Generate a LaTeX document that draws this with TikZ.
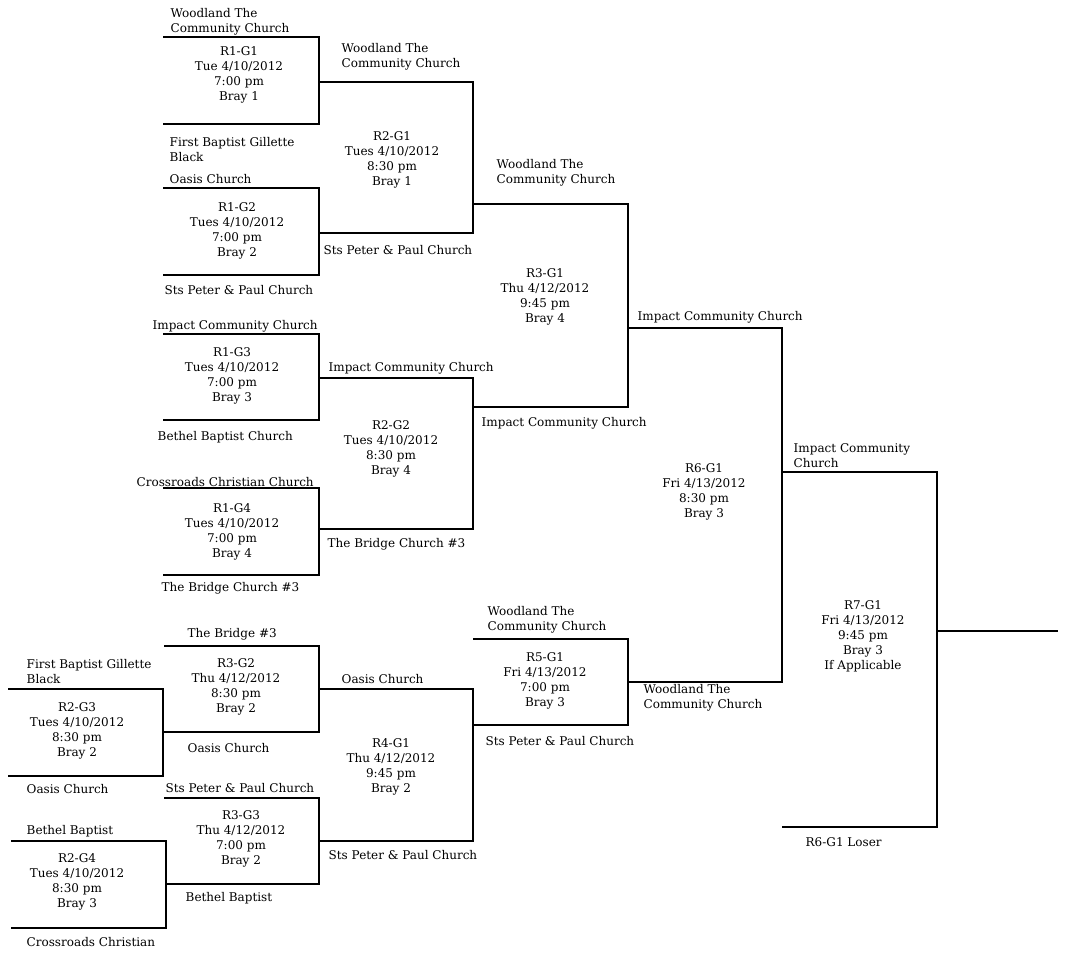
\documentclass[tikz,border=0pt]{standalone}
\usepackage{fontspec}
\setmainfont{DejaVu Serif}

\begin{document}
\begin{tikzpicture}[
    x=1pt, y=-1pt,
    line width=1.4pt,
    game/.style={align=center, inner sep=0pt, font=\fontsize{12}{15}\selectfont},
    team/.style={anchor=west, align=left, inner sep=0pt, font=\fontsize{12}{15}\selectfont}
]
\useasboundingbox (0,0) rectangle (1072,955);

% Entradas (pontas livres das chaves)
\coordinate (e1)  at (163,37);
\coordinate (e2)  at (163,124);
\coordinate (e3)  at (163,188);
\coordinate (e4)  at (163,275);
\coordinate (e5)  at (163,334);
\coordinate (e6)  at (163,420);
\coordinate (e7)  at (163,488);
\coordinate (e8)  at (163,575);
\coordinate (e9)  at (8,689);
\coordinate (e10) at (8,776);
\coordinate (e11) at (11,841);
\coordinate (e12) at (11,928);
\coordinate (e13) at (164,646);
\coordinate (e14) at (164,798);
\coordinate (e15) at (473,639);
\coordinate (e16) at (782,827);

% Vencedores (saida de cada jogo)
\coordinate (w11) at (319,82);
\coordinate (w12) at (319,233);
\coordinate (w13) at (319,378);
\coordinate (w14) at (319,529);
\coordinate (w21) at (473,204);
\coordinate (w22) at (473,407);
\coordinate (w23) at (163,732);
\coordinate (w24) at (166,884);
\coordinate (w31) at (628,328);
\coordinate (w32) at (319,689);
\coordinate (w33) at (319,841);
\coordinate (w41) at (473,725);
\coordinate (w51) at (628,682);
\coordinate (w61) at (782,472);
\coordinate (w71) at (937,631);
\coordinate (fim) at (1058,631);

% --- Chaves ---
\draw (e1) -| (w11) |- (e2);
\draw (e3) -| (w12) |- (e4);
\draw (e5) -| (w13) |- (e6);
\draw (e7) -| (w14) |- (e8);
\draw (w11) -| (w21) |- (w12);
\draw (w13) -| (w22) |- (w14);
\draw (w21) -| (w31) |- (w22);

\draw (e9) -| (w23) |- (e10);
\draw (e11) -| (w24) |- (e12);
\draw (e13) -| (w32) |- (w23);
\draw (e14) -| (w33) |- (w24);
\draw (w32) -| (w41) |- (w33);
\draw (e15) -| (w51) |- (w41);

\draw (w31) -| (w61) |- (w51);
\draw (w61) -| (w71) |- (e16);
\draw (w71) -- (fim);

% --- Jogos ---
\node[game] (g11) at (239,75)    {R1-G1\\Tue 4/10/2012\\7:00 pm\\Bray 1};
\node[game] (g12) at (237,231)   {R1-G2\\Tues 4/10/2012\\7:00 pm\\Bray 2};
\node[game] (g13) at (232,375.5) {R1-G3\\Tues 4/10/2012\\7:00 pm\\Bray 3};
\node[game] (g14) at (232,532)   {R1-G4\\Tues 4/10/2012\\7:00 pm\\Bray 4};
\node[game] (g21) at (392,159.5) {R2-G1\\Tues 4/10/2012\\8:30 pm\\Bray 1};
\node[game] (g22) at (391,449)   {R2-G2\\Tues 4/10/2012\\8:30 pm\\Bray 4};
\node[game] (g23) at (77,730.5)  {R2-G3\\Tues 4/10/2012\\8:30 pm\\Bray 2};
\node[game] (g24) at (77,881.5)  {R2-G4\\Tues 4/10/2012\\8:30 pm\\Bray 3};
\node[game] (g31) at (545,296.5) {R3-G1\\Thu 4/12/2012\\9:45 pm\\Bray 4};
\node[game] (g32) at (236,686.5) {R3-G2\\Thu 4/12/2012\\8:30 pm\\Bray 2};
\node[game] (g33) at (241,839)   {R3-G3\\Thu 4/12/2012\\7:00 pm\\Bray 2};
\node[game] (g41) at (391,766.5) {R4-G1\\Thu 4/12/2012\\9:45 pm\\Bray 2};
\node[game] (g51) at (545,680.5) {R5-G1\\Fri 4/13/2012\\7:00 pm\\Bray 3};
\node[game] (g61) at (704,492)   {R6-G1\\Fri 4/13/2012\\8:30 pm\\Bray 3};
\node[game] (g71) at (863,636.5) {R7-G1\\Fri 4/13/2012\\9:45 pm\\Bray 3\\If Applicable};

% --- Equipes (rodada 1) ---
\node[team] (t1)  at (170,22)  {Woodland The\\Community Church};
\node[team] (t2)  at (169,150) {First Baptist Gillette\\Black};
\node[team] (t3)  at (169,179) {Oasis Church};
\node[team] (t4)  at (164,290) {Sts Peter \& Paul Church};
\node[team] (t5)  at (152,326) {Impact Community Church};
\node[team] (t6)  at (157,437) {Bethel Baptist Church};
\node[team] (t7)  at (136,482) {Crossroads Christian Church};
\node[team] (t8)  at (161,588) {The Bridge Church \#3};

% --- Vencedores ---
\node[team] (v11) at (341,57)    {Woodland The\\Community Church};
\node[team] (v12) at (323,250)   {Sts Peter \& Paul Church};
\node[team] (v13) at (328,368)   {Impact Community Church};
\node[team] (v14) at (327,544)   {The Bridge Church \#3};
\node[team] (v21) at (496,172.5) {Woodland The\\Community Church};
\node[team] (v22) at (481,423)   {Impact Community Church};
\node[team] (v31) at (637,317)   {Impact Community Church};
\node[team] (v61) at (793,456)   {Impact Community\\Church};
\node[team] (v51) at (643,697.5) {Woodland The\\Community Church};
\node[team] (r61) at (805,842)   {R6-G1 Loser};

% --- Chave dos perdedores ---
\node[team] (p1)  at (26,671.5) {First Baptist Gillette\\Black};
\node[team] (p2)  at (26,789)   {Oasis Church};
\node[team] (p3)  at (26,831)   {Bethel Baptist};
\node[team] (p4)  at (26,942)   {Crossroads Christian};
\node[team] (p5)  at (187,634)  {The Bridge \#3};
\node[team] (p6)  at (187,748)  {Oasis Church};
\node[team] (p7)  at (165,788)  {Sts Peter \& Paul Church};
\node[team] (p8)  at (185,898)  {Bethel Baptist};
\node[team] (p9)  at (341,679)  {Oasis Church};
\node[team] (p10) at (328,855)  {Sts Peter \& Paul Church};
\node[team] (p11) at (487,620)  {Woodland The\\Community Church};
\node[team] (p12) at (485,741)  {Sts Peter \& Paul Church};

\end{tikzpicture}
\end{document}
